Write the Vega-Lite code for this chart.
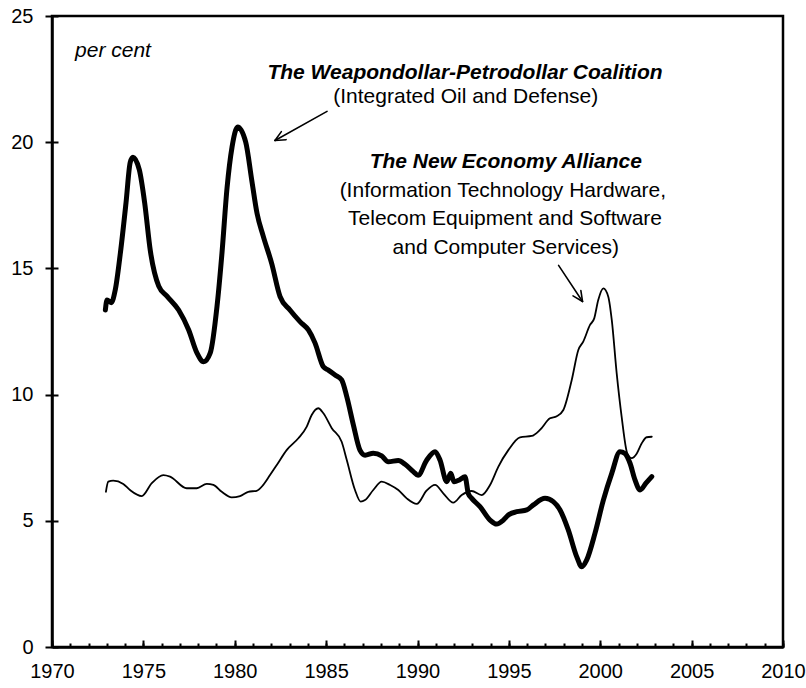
{
  "$schema": "https://vega.github.io/schema/vega-lite/v6.json",
  "autosize": "none",
  "padding": {"left": 52, "top": 16, "right": 23, "bottom": 41},
  "width": 731,
  "height": 631,
  "config": {
    "view": {"stroke": "black", "strokeWidth": 2.5},
    "font": "Liberation Sans",
    "axis": {"grid": false, "title": null, "domainColor": "black", "tickColor": "black", "labelColor": "black", "labelFont": "Liberation Sans"}
  },
  "datasets": {
    "series": [
      {"s": "Weapondollar-Petrodollar", "year": 1972.92, "v": 13.35},
      {"s": "Weapondollar-Petrodollar", "year": 1973.01, "v": 13.75},
      {"s": "Weapondollar-Petrodollar", "year": 1973.24, "v": 13.64},
      {"s": "Weapondollar-Petrodollar", "year": 1973.46, "v": 14.14},
      {"s": "Weapondollar-Petrodollar", "year": 1973.74, "v": 15.6},
      {"s": "Weapondollar-Petrodollar", "year": 1974.05, "v": 17.6},
      {"s": "Weapondollar-Petrodollar", "year": 1974.28, "v": 19.2},
      {"s": "Weapondollar-Petrodollar", "year": 1974.43, "v": 19.4},
      {"s": "Weapondollar-Petrodollar", "year": 1974.78, "v": 18.9},
      {"s": "Weapondollar-Petrodollar", "year": 1975.07, "v": 17.6},
      {"s": "Weapondollar-Petrodollar", "year": 1975.38, "v": 15.7},
      {"s": "Weapondollar-Petrodollar", "year": 1975.84, "v": 14.3},
      {"s": "Weapondollar-Petrodollar", "year": 1976.29, "v": 13.9},
      {"s": "Weapondollar-Petrodollar", "year": 1976.93, "v": 13.35},
      {"s": "Weapondollar-Petrodollar", "year": 1977.48, "v": 12.56},
      {"s": "Weapondollar-Petrodollar", "year": 1977.93, "v": 11.65},
      {"s": "Weapondollar-Petrodollar", "year": 1978.3, "v": 11.3},
      {"s": "Weapondollar-Petrodollar", "year": 1978.66, "v": 11.65},
      {"s": "Weapondollar-Petrodollar", "year": 1979.03, "v": 13.5},
      {"s": "Weapondollar-Petrodollar", "year": 1979.3, "v": 15.6},
      {"s": "Weapondollar-Petrodollar", "year": 1979.58, "v": 18.2},
      {"s": "Weapondollar-Petrodollar", "year": 1979.85, "v": 19.8},
      {"s": "Weapondollar-Petrodollar", "year": 1980.16, "v": 20.6},
      {"s": "Weapondollar-Petrodollar", "year": 1980.6, "v": 20.0},
      {"s": "Weapondollar-Petrodollar", "year": 1980.94, "v": 18.45},
      {"s": "Weapondollar-Petrodollar", "year": 1981.22, "v": 17.18},
      {"s": "Weapondollar-Petrodollar", "year": 1981.55, "v": 16.3},
      {"s": "Weapondollar-Petrodollar", "year": 1982.02, "v": 15.2},
      {"s": "Weapondollar-Petrodollar", "year": 1982.48, "v": 13.88},
      {"s": "Weapondollar-Petrodollar", "year": 1983.02, "v": 13.35},
      {"s": "Weapondollar-Petrodollar", "year": 1983.57, "v": 12.89},
      {"s": "Weapondollar-Petrodollar", "year": 1984.03, "v": 12.56},
      {"s": "Weapondollar-Petrodollar", "year": 1984.39, "v": 12.05},
      {"s": "Weapondollar-Petrodollar", "year": 1984.85, "v": 11.1},
      {"s": "Weapondollar-Petrodollar", "year": 1985.12, "v": 10.97},
      {"s": "Weapondollar-Petrodollar", "year": 1985.49, "v": 10.78},
      {"s": "Weapondollar-Petrodollar", "year": 1985.85, "v": 10.58},
      {"s": "Weapondollar-Petrodollar", "year": 1986.13, "v": 9.92},
      {"s": "Weapondollar-Petrodollar", "year": 1986.49, "v": 8.8},
      {"s": "Weapondollar-Petrodollar", "year": 1986.85, "v": 7.8},
      {"s": "Weapondollar-Petrodollar", "year": 1987.13, "v": 7.6},
      {"s": "Weapondollar-Petrodollar", "year": 1987.58, "v": 7.68},
      {"s": "Weapondollar-Petrodollar", "year": 1988.04, "v": 7.57},
      {"s": "Weapondollar-Petrodollar", "year": 1988.4, "v": 7.34},
      {"s": "Weapondollar-Petrodollar", "year": 1988.95, "v": 7.39},
      {"s": "Weapondollar-Petrodollar", "year": 1989.32, "v": 7.24},
      {"s": "Weapondollar-Petrodollar", "year": 1989.77, "v": 6.95},
      {"s": "Weapondollar-Petrodollar", "year": 1990.03, "v": 6.8},
      {"s": "Weapondollar-Petrodollar", "year": 1990.5, "v": 7.4},
      {"s": "Weapondollar-Petrodollar", "year": 1990.96, "v": 7.74},
      {"s": "Weapondollar-Petrodollar", "year": 1991.23, "v": 7.41},
      {"s": "Weapondollar-Petrodollar", "year": 1991.6, "v": 6.55},
      {"s": "Weapondollar-Petrodollar", "year": 1991.82, "v": 6.88},
      {"s": "Weapondollar-Petrodollar", "year": 1992.0, "v": 6.55},
      {"s": "Weapondollar-Petrodollar", "year": 1992.29, "v": 6.62},
      {"s": "Weapondollar-Petrodollar", "year": 1992.6, "v": 6.75},
      {"s": "Weapondollar-Petrodollar", "year": 1992.78, "v": 6.08},
      {"s": "Weapondollar-Petrodollar", "year": 1992.97, "v": 5.89},
      {"s": "Weapondollar-Petrodollar", "year": 1993.42, "v": 5.56},
      {"s": "Weapondollar-Petrodollar", "year": 1993.97, "v": 5.03},
      {"s": "Weapondollar-Petrodollar", "year": 1994.33, "v": 4.87},
      {"s": "Weapondollar-Petrodollar", "year": 1994.7, "v": 5.03},
      {"s": "Weapondollar-Petrodollar", "year": 1994.97, "v": 5.23},
      {"s": "Weapondollar-Petrodollar", "year": 1995.43, "v": 5.36},
      {"s": "Weapondollar-Petrodollar", "year": 1995.98, "v": 5.43},
      {"s": "Weapondollar-Petrodollar", "year": 1996.34, "v": 5.63},
      {"s": "Weapondollar-Petrodollar", "year": 1996.98, "v": 5.89},
      {"s": "Weapondollar-Petrodollar", "year": 1997.43, "v": 5.76},
      {"s": "Weapondollar-Petrodollar", "year": 1997.8, "v": 5.43},
      {"s": "Weapondollar-Petrodollar", "year": 1998.25, "v": 4.64},
      {"s": "Weapondollar-Petrodollar", "year": 1998.71, "v": 3.58},
      {"s": "Weapondollar-Petrodollar", "year": 1998.99, "v": 3.18},
      {"s": "Weapondollar-Petrodollar", "year": 1999.26, "v": 3.45},
      {"s": "Weapondollar-Petrodollar", "year": 1999.71, "v": 4.5},
      {"s": "Weapondollar-Petrodollar", "year": 2000.17, "v": 5.82},
      {"s": "Weapondollar-Petrodollar", "year": 2000.63, "v": 6.88},
      {"s": "Weapondollar-Petrodollar", "year": 2001.08, "v": 7.74},
      {"s": "Weapondollar-Petrodollar", "year": 2001.35, "v": 7.67},
      {"s": "Weapondollar-Petrodollar", "year": 2001.63, "v": 7.28},
      {"s": "Weapondollar-Petrodollar", "year": 2001.9, "v": 6.62},
      {"s": "Weapondollar-Petrodollar", "year": 2002.18, "v": 6.22},
      {"s": "Weapondollar-Petrodollar", "year": 2002.5, "v": 6.49},
      {"s": "Weapondollar-Petrodollar", "year": 2002.82, "v": 6.75},
      {"s": "New Economy", "year": 1972.95, "v": 6.15},
      {"s": "New Economy", "year": 1973.08, "v": 6.55},
      {"s": "New Economy", "year": 1973.35, "v": 6.59},
      {"s": "New Economy", "year": 1973.9, "v": 6.46},
      {"s": "New Economy", "year": 1974.27, "v": 6.22},
      {"s": "New Economy", "year": 1974.91, "v": 5.98},
      {"s": "New Economy", "year": 1975.46, "v": 6.49},
      {"s": "New Economy", "year": 1976.09, "v": 6.81},
      {"s": "New Economy", "year": 1976.46, "v": 6.75},
      {"s": "New Economy", "year": 1977.37, "v": 6.29},
      {"s": "New Economy", "year": 1977.92, "v": 6.29},
      {"s": "New Economy", "year": 1978.47, "v": 6.46},
      {"s": "New Economy", "year": 1978.83, "v": 6.42},
      {"s": "New Economy", "year": 1979.29, "v": 6.15},
      {"s": "New Economy", "year": 1979.83, "v": 5.93},
      {"s": "New Economy", "year": 1980.29, "v": 5.98},
      {"s": "New Economy", "year": 1980.74, "v": 6.15},
      {"s": "New Economy", "year": 1981.2, "v": 6.19},
      {"s": "New Economy", "year": 1981.56, "v": 6.42},
      {"s": "New Economy", "year": 1981.93, "v": 6.81},
      {"s": "New Economy", "year": 1982.3, "v": 7.21},
      {"s": "New Economy", "year": 1982.84, "v": 7.8},
      {"s": "New Economy", "year": 1983.48, "v": 8.27},
      {"s": "New Economy", "year": 1983.94, "v": 8.73},
      {"s": "New Economy", "year": 1984.21, "v": 9.19},
      {"s": "New Economy", "year": 1984.57, "v": 9.46},
      {"s": "New Economy", "year": 1984.85, "v": 9.26},
      {"s": "New Economy", "year": 1985.31, "v": 8.67},
      {"s": "New Economy", "year": 1985.85, "v": 8.13},
      {"s": "New Economy", "year": 1986.13, "v": 7.41},
      {"s": "New Economy", "year": 1986.58, "v": 6.22},
      {"s": "New Economy", "year": 1986.89, "v": 5.76},
      {"s": "New Economy", "year": 1987.13, "v": 5.82},
      {"s": "New Economy", "year": 1987.58, "v": 6.22},
      {"s": "New Economy", "year": 1988.04, "v": 6.55},
      {"s": "New Economy", "year": 1988.5, "v": 6.42},
      {"s": "New Economy", "year": 1988.95, "v": 6.22},
      {"s": "New Economy", "year": 1989.41, "v": 5.89},
      {"s": "New Economy", "year": 1989.96, "v": 5.67},
      {"s": "New Economy", "year": 1990.5, "v": 6.2},
      {"s": "New Economy", "year": 1990.96, "v": 6.42},
      {"s": "New Economy", "year": 1991.41, "v": 6.09},
      {"s": "New Economy", "year": 1991.96, "v": 5.72},
      {"s": "New Economy", "year": 1992.42, "v": 6.02},
      {"s": "New Economy", "year": 1992.97, "v": 6.18},
      {"s": "New Economy", "year": 1993.51, "v": 6.02},
      {"s": "New Economy", "year": 1993.97, "v": 6.42},
      {"s": "New Economy", "year": 1994.42, "v": 7.14},
      {"s": "New Economy", "year": 1994.97, "v": 7.8},
      {"s": "New Economy", "year": 1995.61, "v": 8.31},
      {"s": "New Economy", "year": 1996.25, "v": 8.36},
      {"s": "New Economy", "year": 1996.7, "v": 8.6},
      {"s": "New Economy", "year": 1997.25, "v": 9.06},
      {"s": "New Economy", "year": 1997.62, "v": 9.14},
      {"s": "New Economy", "year": 1997.98, "v": 9.39},
      {"s": "New Economy", "year": 1998.44, "v": 10.58},
      {"s": "New Economy", "year": 1998.8, "v": 11.77},
      {"s": "New Economy", "year": 1999.07, "v": 12.1},
      {"s": "New Economy", "year": 1999.44, "v": 12.76},
      {"s": "New Economy", "year": 1999.67, "v": 13.02},
      {"s": "New Economy", "year": 1999.89, "v": 13.75},
      {"s": "New Economy", "year": 2000.17, "v": 14.21},
      {"s": "New Economy", "year": 2000.44, "v": 13.88},
      {"s": "New Economy", "year": 2000.63, "v": 12.96},
      {"s": "New Economy", "year": 2000.9, "v": 10.84},
      {"s": "New Economy", "year": 2001.17, "v": 9.13},
      {"s": "New Economy", "year": 2001.48, "v": 7.67},
      {"s": "New Economy", "year": 2001.72, "v": 7.48},
      {"s": "New Economy", "year": 2002.0, "v": 7.67},
      {"s": "New Economy", "year": 2002.27, "v": 8.07},
      {"s": "New Economy", "year": 2002.54, "v": 8.31},
      {"s": "New Economy", "year": 2002.82, "v": 8.33}
    ],
    "arrows": [
      {"year": 1985.05, "v": 21.22, "year2": 1982.2, "v2": 20.07},
      {"year": 1982.81, "v": 20.1, "year2": 1982.2, "v2": 20.07},
      {"year": 1982.55, "v": 20.42, "year2": 1982.2, "v2": 20.07},
      {"year": 1997.72, "v": 15.12, "year2": 1999.03, "v2": 13.69},
      {"year": 1998.94, "v": 14.12, "year2": 1999.03, "v2": 13.69},
      {"year": 1998.51, "v": 13.91, "year2": 1999.03, "v2": 13.69}
    ],
    "titles": [
      {"label": "The Weapondollar-Petrodollar Coalition", "year": 1992.6, "v": 22.52},
      {"label": "The New Economy Alliance", "year": 1994.83, "v": 18.98}
    ],
    "subtitles": [
      {"label": "(Integrated Oil and Defense)", "year": 1992.64, "v": 21.55},
      {"label": "(Information Technology Hardware,", "year": 1994.67, "v": 17.82},
      {"label": "Telecom Equipment and Software", "year": 1994.79, "v": 16.7},
      {"label": "and Computer Services)", "year": 1994.83, "v": 15.58}
    ],
    "unit": [
      {"label": "per cent", "year": 1971.26, "v": 23.38}
    ]
  },
  "resolve": {"axis": {"x": "independent", "y": "independent"}},
  "layer": [
    {
      "data": {"name": "series"},
      "mark": {"type": "line", "interpolate": "monotone", "color": "black", "strokeCap": "round", "strokeJoin": "round"},
      "encoding": {
        "x": {"field": "year", "type": "quantitative",
          "scale": {"domain": [1970, 2010], "nice": false, "zero": false},
          "axis": {"orient": "bottom", "values": [1970, 1975, 1980, 1985, 1990, 1995, 2000, 2005, 2010], "format": "d", "tickSize": -7, "tickWidth": 2, "domainWidth": 2.5, "labelFontSize": 20, "labelPadding": 21, "labelFlush": false, "labelOverlap": false}},
        "y": {"field": "v", "type": "quantitative",
          "scale": {"domain": [0, 25], "nice": false, "zero": true},
          "axis": {"orient": "left", "values": [0, 5, 10, 15, 20, 25], "tickSize": 7, "tickWidth": 2, "domainWidth": 2.5, "labelFontSize": 20, "labelPadding": 12, "labelFlush": false, "labelOverlap": false}},
        "detail": {"field": "s"},
        "strokeWidth": {"field": "s", "type": "nominal", "scale": {"domain": ["Weapondollar-Petrodollar", "New Economy"], "range": [5, 1.8]}, "legend": null},
        "order": {"field": "year", "type": "quantitative"}
      }
    },
    {
      "data": {"name": "arrows"},
      "mark": {"type": "rule", "color": "black", "strokeWidth": 1.6, "strokeCap": "round"},
      "encoding": {
        "x": {"field": "year", "type": "quantitative",
          "axis": {"orient": "bottom", "values": [1970,1971,1972,1973,1974,1975,1976,1977,1978,1979,1980,1981,1982,1983,1984,1985,1986,1987,1988,1989,1990,1991,1992,1993,1994,1995,1996,1997,1998,1999,2000,2001,2002,2003,2004,2005,2006,2007,2008,2009,2010], "tickSize": -4, "tickWidth": 2, "labels": false, "domain": false}},
        "y": {"field": "v", "type": "quantitative",
          "axis": {"orient": "left", "values": [0, 5, 10, 15, 20, 25], "tickSize": -6, "tickWidth": 2, "labels": false, "domain": false}},
        "x2": {"field": "year2"},
        "y2": {"field": "v2"}
      }
    },
    {
      "data": {"name": "titles"},
      "mark": {"type": "text", "font": "Liberation Sans", "fontSize": 21, "fontWeight": "bold", "fontStyle": "italic", "align": "center", "baseline": "alphabetic", "color": "black"},
      "encoding": {
        "x": {"field": "year", "type": "quantitative", "axis": null},
        "y": {"field": "v", "type": "quantitative", "axis": null},
        "text": {"field": "label"}
      }
    },
    {
      "data": {"name": "subtitles"},
      "mark": {"type": "text", "font": "Liberation Sans", "fontSize": 21, "align": "center", "baseline": "alphabetic", "color": "black"},
      "encoding": {
        "x": {"field": "year", "type": "quantitative", "axis": null},
        "y": {"field": "v", "type": "quantitative", "axis": null},
        "text": {"field": "label"}
      }
    },
    {
      "data": {"name": "unit"},
      "mark": {"type": "text", "font": "Liberation Sans", "fontSize": 21, "fontStyle": "italic", "align": "left", "baseline": "alphabetic", "color": "black"},
      "encoding": {
        "x": {"field": "year", "type": "quantitative", "axis": null},
        "y": {"field": "v", "type": "quantitative", "axis": null},
        "text": {"field": "label"}
      }
    }
  ]
}
